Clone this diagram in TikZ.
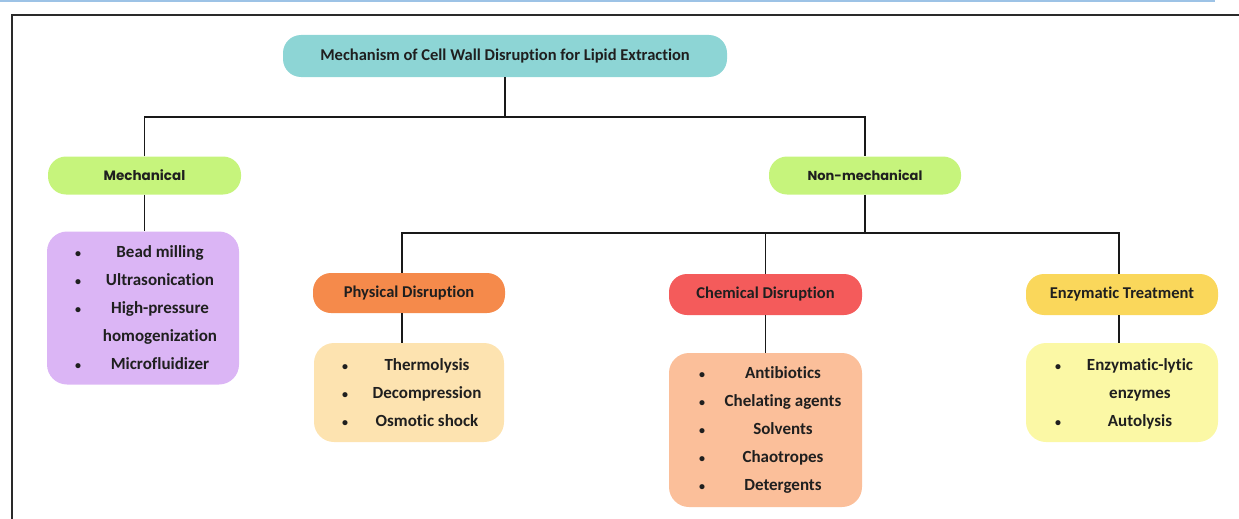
\documentclass[tikz,border=0pt]{standalone}
\usepackage{fontspec}
\setmainfont{Carlito}[Ligatures=NoCommon]
\newfontfamily\geo{Poppins}
\definecolor{titlec}{HTML}{8DD5D5}
\definecolor{greenc}{HTML}{C6F47C}
\definecolor{purplec}{HTML}{DBB5F5}
\definecolor{orangec}{HTML}{F58A4B}
\definecolor{peachc}{HTML}{FDE3B0}
\definecolor{redc}{HTML}{F45B5B}
\definecolor{salmonc}{HTML}{FBBF9A}
\definecolor{yellowc}{HTML}{FAD75B}
\definecolor{lyellowc}{HTML}{FBF8A5}
\definecolor{topblue}{HTML}{9DC3E6}
\definecolor{framec}{HTML}{2A2A2A}
\begin{document}
\begin{tikzpicture}[x=1pt,y=-1pt,
  pill/.style={rounded corners=18pt, inner sep=0pt, font=\fontsize{16.5}{19}\selectfont\bfseries, text=black!88},
  listbox/.style={rounded corners=20pt, inner sep=0pt},
  litem/.style={align=center, font=\fontsize{17}{28}\selectfont\bfseries, inner sep=0pt, text=black!88},
  lbul/.style={align=center, font=\fontsize{12}{28}\selectfont\bfseries, inner sep=0pt, text=black!88},
  conn/.style={line width=1.8pt, black!90}]
\useasboundingbox (0,0) rectangle (1239,519);
% top blue line and frame
\draw[topblue, line width=2pt] (0,1) -- (1215,1);
\draw[framec, line width=2.6pt] (12,530) -- (12,15) -- (1250,15);
% nodes
\node[pill, fill=titlec, minimum width=444pt, minimum height=42pt] (title) at (505,56) {Mechanism of Cell Wall Disruption for Lipid Extraction};
\node[pill, fill=greenc, minimum width=193pt, minimum height=38pt, font=\geo\fontsize{13.5}{16}\selectfont\bfseries] (mech) at (144.5,175.5) {Mechanical};
\node[pill, fill=greenc, minimum width=192pt, minimum height=38pt, font=\geo\fontsize{13}{16}\selectfont\bfseries] (nonmech) at (865,175.5) {Non-mechanical};
\node[listbox, fill=purplec, minimum width=192pt, minimum height=153pt] (mechlist) at (143,308) {};
\node[pill, fill=orangec, minimum width=192pt, minimum height=40pt] (phys) at (409,293) {Physical Disruption};
\node[listbox, fill=peachc, minimum width=190pt, minimum height=99pt] (physlist) at (409,392.5) {};
\node[pill, fill=redc, minimum width=193pt, minimum height=41pt] (chem) at (765.5,294.5) {Chemical Disruption};
\node[listbox, fill=salmonc, minimum width=193pt, minimum height=154pt] (chemlist) at (765.5,430) {};
\node[pill, fill=yellowc, minimum width=192pt, minimum height=41pt] (enz) at (1122,294.5) {Enzymatic Treatment};
\node[listbox, fill=lyellowc, minimum width=192pt, minimum height=99pt] (enzlist) at (1122,392.5) {};
% list texts
\node[litem] (mechtext) at (160,308) {\strut Bead milling\\\strut Ultrasonication\\\strut High-pressure\\\strut homogenization\\\strut Microfluidizer};
\node[lbul] (mechbul) at (78,308) {\strut•\\\strut•\\\strut•\\\strut\\\strut•};
\node[litem] (phystext) at (427,392.5) {\strut Thermolysis\\\strut Decompression\\\strut Osmotic shock};
\node[lbul] (physbul) at (345,392.5) {\strut•\\\strut•\\\strut•};
\node[litem] (chemtext) at (783,429) {\strut Antibiotics\\\strut Chelating agents\\\strut Solvents\\\strut Chaotropes\\\strut Detergents};
\node[lbul] (chembul) at (702,429) {\strut•\\\strut•\\\strut•\\\strut•\\\strut•};
\node[litem] (enztext) at (1140,392.5) {\strut Enzymatic-lytic\\\strut enzymes\\\strut Autolysis};
\node[lbul] (enzbul) at (1058,392.5) {\strut•\\\strut\\\strut•};
% connectors
\coordinate (bus1) at (505,117);
\coordinate (bus2) at (865,233);
\draw[conn] (title.south) -- (bus1);
\draw[conn] (mech.north) |- (bus1) -| (nonmech.north);
\draw[conn] (mech.south) -- (mech.south |- mechlist.north);
\draw[conn] (nonmech.south) -- (bus2);
\draw[conn] ([xshift=-7pt]phys.north) |- (bus2) -| ([xshift=-3pt]enz.north);
\draw[conn] (chem.north) -- (chem.north |- bus2);
\draw[conn] ([xshift=-7pt]phys.south) -- ([xshift=-7pt]phys.south |- physlist.north);
\draw[conn] (chem.south) -- (chem.south |- chemlist.north);
\draw[conn] ([xshift=-3pt]enz.south) -- ([xshift=-3pt]enz.south |- enzlist.north);
\end{tikzpicture}
\end{document}
